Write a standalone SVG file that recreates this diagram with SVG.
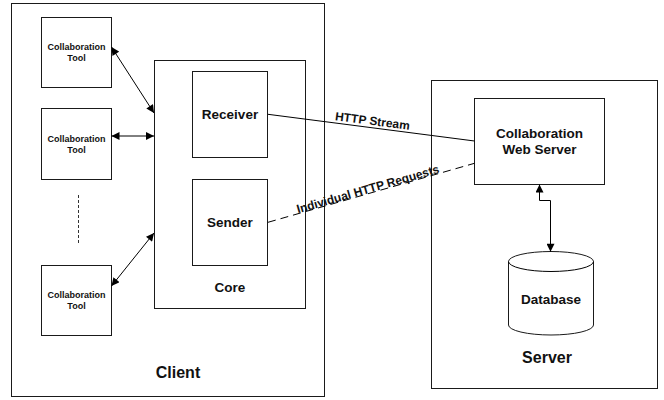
<svg xmlns="http://www.w3.org/2000/svg" width="664" height="400" viewBox="0 0 664 400">
  <style>
    .box { fill: #ffffff; stroke: #1a1a1a; stroke-width: 1; }
    .line { fill: none; stroke: #000000; stroke-width: 1; }
    .dash { fill: none; stroke: #000000; stroke-width: 1; stroke-dasharray: 8 5; }
    .lbl { font-family: "Liberation Sans", Arial, sans-serif; font-weight: bold; fill: #111111; text-anchor: middle; }
    .small { font-size: 9px; }
    .mid { font-size: 13.5px; }
    .big { font-size: 16px; }
    .edge { font-size: 12px; }
  </style>
  <defs>
    <marker id="arrow" viewBox="0 0 10 10" refX="10" refY="5" markerWidth="9" markerHeight="8" markerUnits="userSpaceOnUse" orient="auto-start-reverse">
      <path d="M0,0 L10,5 L0,10 Z" fill="#000000"/>
    </marker>
  </defs>

  <rect width="664" height="400" fill="#ffffff"/>

  <!-- containers -->
  <g id="client">
    <rect class="box" x="11.5" y="3.5" width="313" height="393"/>
    <text class="lbl big" x="178" y="378">Client</text>
  </g>
  <g id="server">
    <rect class="box" x="431.5" y="80.5" width="226" height="308"/>
    <text class="lbl big" x="547" y="363">Server</text>
  </g>
  <g id="core">
    <rect class="box" x="154.5" y="60.5" width="151" height="248"/>
    <text class="lbl mid" x="230" y="292">Core</text>
  </g>

  <!-- client side nodes -->
  <g id="tool1">
    <rect class="box" x="41.5" y="17.5" width="70" height="70"/>
    <text class="lbl small" x="76.5" y="50">Collaboration</text>
    <text class="lbl small" x="76.5" y="61">Tool</text>
  </g>
  <g id="tool2">
    <rect class="box" x="41.5" y="108.5" width="70" height="71"/>
    <text class="lbl small" x="76.5" y="142">Collaboration</text>
    <text class="lbl small" x="76.5" y="153">Tool</text>
  </g>
  <g id="tool3">
    <rect class="box" x="41.5" y="265.5" width="70" height="70"/>
    <text class="lbl small" x="76.5" y="298">Collaboration</text>
    <text class="lbl small" x="76.5" y="309">Tool</text>
  </g>
  <g id="receiver">
    <rect class="box" x="192.5" y="71.5" width="75" height="86"/>
    <text class="lbl mid" x="230" y="119">Receiver</text>
  </g>
  <g id="sender">
    <rect class="box" x="192.5" y="179.5" width="75" height="86"/>
    <text class="lbl mid" x="230" y="227">Sender</text>
  </g>

  <!-- server side nodes -->
  <g id="webserver">
    <rect class="box" x="474.5" y="98.5" width="130" height="86"/>
    <text class="lbl mid" x="539.5" y="137.5">Collaboration</text>
    <text class="lbl mid" x="539.5" y="154">Web Server</text>
  </g>
  <g id="database">
    <path class="box" d="M508.5,261.5 L508.5,325 A42.5,10 0 0 0 593.5,325 L593.5,261.5 A42.5,10 0 0 0 508.5,261.5 Z"/>
    <path class="line" d="M508.5,261.5 A42.5,10 0 0 0 593.5,261.5" stroke="#1a1a1a"/>
    <text class="lbl mid" x="551" y="304">Database</text>
  </g>

  <!-- connectors -->
  <g id="connectors">
    <line class="line" x1="111.5" y1="47" x2="154" y2="113" marker-start="url(#arrow)" marker-end="url(#arrow)"/>
    <line class="line" x1="111.5" y1="136" x2="154" y2="136" marker-start="url(#arrow)" marker-end="url(#arrow)"/>
    <line class="line" x1="111.5" y1="286" x2="154" y2="233" marker-start="url(#arrow)" marker-end="url(#arrow)"/>
    <line x1="78.5" y1="195" x2="78.5" y2="244" stroke="#333333" stroke-width="1" stroke-dasharray="3 2"/>

    <line class="line" x1="268" y1="114.3" x2="474.5" y2="141"/>
    <text class="lbl edge" transform="translate(372,125) rotate(7.4)">HTTP Stream</text>

    <line class="dash" x1="268" y1="222.3" x2="474.5" y2="163.3"/>
    <text class="lbl edge" transform="translate(369,193) rotate(-16)">Individual HTTP Requests</text>

    <path class="line" d="M539.5,200.5 L550.5,200.5 L550.5,251.7" marker-end="url(#arrow)"/>
    <path class="line" d="M539.5,200.5 L539.5,184.5" marker-end="url(#arrow)"/>
  </g>
</svg>
